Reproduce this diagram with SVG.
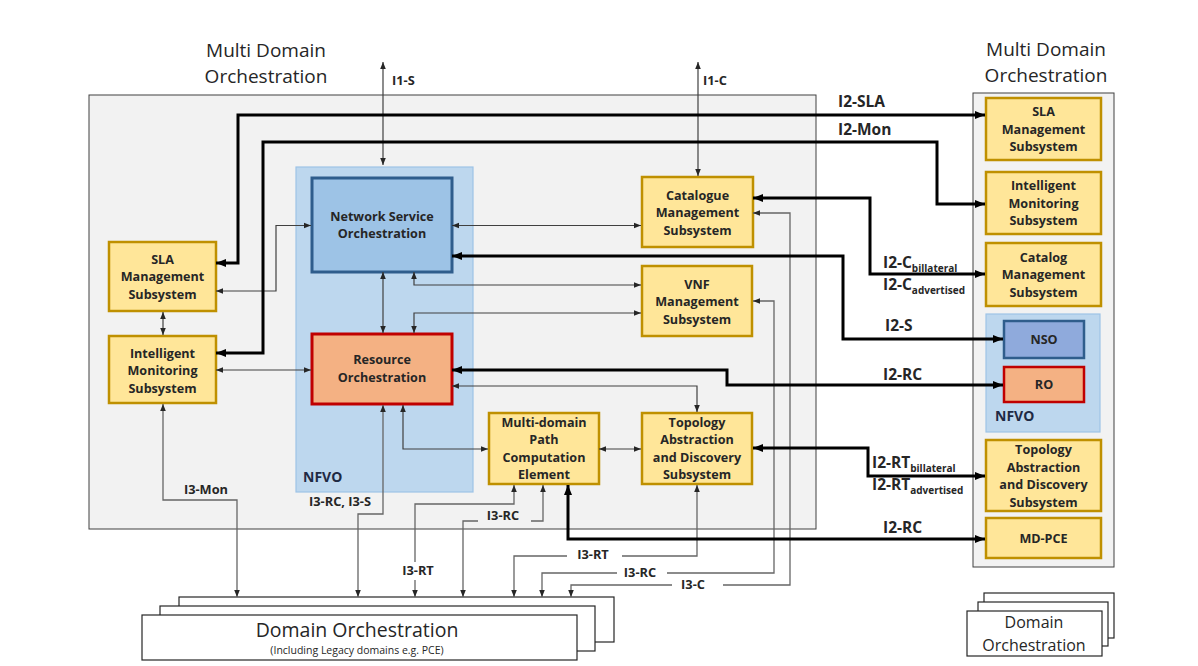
<svg xmlns="http://www.w3.org/2000/svg" width="1198" height="666" viewBox="0 0 1198 666">
<style>
.bg{fill:#f2f2f2;stroke:#404040;stroke-width:1}
.ybox{fill:#ffe699;stroke:#bf9000;stroke-width:2.5}
.nfvo{fill:#bdd7ee;stroke:#9dc3e6;stroke-width:1.2}
.lbl{font-family:'Open Sans',sans-serif;font-weight:700;font-size:12.6px;fill:#262626;text-anchor:middle}
.ttl{font-family:'Open Sans',sans-serif;font-size:19px;fill:#262626;text-anchor:middle}
.il{font-family:'Open Sans',sans-serif;font-weight:700;font-size:12.8px;fill:#262626}
.i2{font-family:'Open Sans',sans-serif;font-weight:700;font-size:15.5px;fill:#262626}
.sub{font-size:10px}
.thin{fill:none;stroke:#404040;stroke-width:1.2;marker-start:url(#a);marker-end:url(#a)}
.gray{fill:none;stroke:#666;stroke-width:1.3}
.thick{fill:none;stroke:#000;stroke-width:3;marker-start:url(#A);marker-end:url(#A)}
.dom{fill:#fff;stroke:#262626;stroke-width:1.2}
</style>
<defs>
<marker id="a" viewBox="0 0 10 10" refX="10" refY="5" markerWidth="7" markerHeight="7" markerUnits="userSpaceOnUse" orient="auto-start-reverse"><path d="M0,1 L10,5 L0,9 z" fill="#262626"/></marker>
<marker id="A" viewBox="0 0 10 10" refX="10" refY="5" markerWidth="10" markerHeight="10" markerUnits="userSpaceOnUse" orient="auto-start-reverse"><path d="M0,1 L10,5 L0,9 z" fill="#000"/></marker>
</defs>
<rect width="1198" height="666" fill="#fff"/>

<g id="left-domain">
<text class="ttl" x="266" y="57">Multi Domain</text>
<text class="ttl" x="266" y="83">Orchestration</text>
<rect class="bg" x="89" y="95" width="727" height="434"/>
</g>
<g id="right-domain">
<text class="ttl" x="1046" y="56">Multi Domain</text>
<text class="ttl" x="1046" y="82">Orchestration</text>
<rect class="bg" x="973" y="93" width="141" height="474"/>
</g>

<g id="nfvo">
<rect class="nfvo" x="296" y="167" width="177" height="325"/>
<text class="i2" x="303" y="482" style="font-size:14px;fill:#1f2a44">NFVO</text>
</g>

<g id="nso">
<rect x="312" y="178" width="140" height="94" fill="#9dc3e6" stroke="#2f5d8c" stroke-width="3"/>
<text class="lbl" x="382" y="221">Network Service</text>
<text class="lbl" x="382" y="238">Orchestration</text>
</g>
<g id="ro">
<rect x="312" y="334" width="140" height="70" fill="#f4b183" stroke="#c00000" stroke-width="3"/>
<text class="lbl" x="382" y="364">Resource</text>
<text class="lbl" x="382" y="381.5">Orchestration</text>
</g>

<g id="sla-left">
<rect class="ybox" x="109" y="242" width="107" height="69"/>
<text class="lbl" x="162.5" y="263.5">SLA</text>
<text class="lbl" x="162.5" y="281">Management</text>
<text class="lbl" x="162.5" y="298.5">Subsystem</text>
</g>
<g id="ims-left">
<rect class="ybox" x="109" y="336" width="107" height="67"/>
<text class="lbl" x="162.5" y="357.5">Intelligent</text>
<text class="lbl" x="162.5" y="375">Monitoring</text>
<text class="lbl" x="162.5" y="392.5">Subsystem</text>
</g>
<g id="catalogue">
<rect class="ybox" x="642" y="177" width="111" height="70"/>
<text class="lbl" x="697.5" y="199.5">Catalogue</text>
<text class="lbl" x="697.5" y="217">Management</text>
<text class="lbl" x="697.5" y="234.5">Subsystem</text>
</g>
<g id="vnf">
<rect class="ybox" x="642" y="266" width="110" height="70"/>
<text class="lbl" x="697" y="288.5">VNF</text>
<text class="lbl" x="697" y="306">Management</text>
<text class="lbl" x="697" y="323.5">Subsystem</text>
</g>
<g id="mdpce">
<rect class="ybox" x="489" y="413" width="110" height="71"/>
<text class="lbl" x="544" y="426.5">Multi-domain</text>
<text class="lbl" x="544" y="444">Path</text>
<text class="lbl" x="544" y="461.5">Computation</text>
<text class="lbl" x="544" y="479">Element</text>
</g>
<g id="topology">
<rect class="ybox" x="642" y="413" width="110" height="71"/>
<text class="lbl" x="697" y="426.5">Topology</text>
<text class="lbl" x="697" y="444">Abstraction</text>
<text class="lbl" x="697" y="461.5">and Discovery</text>
<text class="lbl" x="697" y="479">Subsystem</text>
</g>

<g id="sla-right">
<rect class="ybox" x="986" y="98" width="115" height="62"/>
<text class="lbl" x="1043.5" y="116">SLA</text>
<text class="lbl" x="1043.5" y="133.5">Management</text>
<text class="lbl" x="1043.5" y="151">Subsystem</text>
</g>
<g id="ims-right">
<rect class="ybox" x="986" y="172" width="115" height="62"/>
<text class="lbl" x="1043.5" y="190">Intelligent</text>
<text class="lbl" x="1043.5" y="207.5">Monitoring</text>
<text class="lbl" x="1043.5" y="225">Subsystem</text>
</g>
<g id="catalog-right">
<rect class="ybox" x="986" y="243" width="115" height="63"/>
<text class="lbl" x="1043.5" y="261.5">Catalog</text>
<text class="lbl" x="1043.5" y="279">Management</text>
<text class="lbl" x="1043.5" y="296.5">Subsystem</text>
</g>
<g id="nfvo-right">
<rect class="nfvo" x="986" y="314" width="114" height="118"/>
<text class="i2" x="995" y="421" style="font-size:14px;fill:#1f2a44">NFVO</text>
</g>
<g id="nso-right">
<rect x="1004" y="321" width="80" height="37" fill="#8faadc" stroke="#2f5d8c" stroke-width="2.5"/>
<text class="lbl" x="1044" y="344">NSO</text>
</g>
<g id="ro-right">
<rect x="1004" y="367" width="80" height="35" fill="#f4b183" stroke="#c00000" stroke-width="2.5"/>
<text class="lbl" x="1044" y="389">RO</text>
</g>
<g id="topology-right">
<rect class="ybox" x="986" y="440" width="115" height="71"/>
<text class="lbl" x="1043.5" y="454">Topology</text>
<text class="lbl" x="1043.5" y="471.5">Abstraction</text>
<text class="lbl" x="1043.5" y="489">and Discovery</text>
<text class="lbl" x="1043.5" y="506.5">Subsystem</text>
</g>
<g id="mdpce-right">
<rect class="ybox" x="986" y="518" width="115" height="40"/>
<text class="lbl" x="1043.5" y="543">MD-PCE</text>
</g>

<g id="domain-orchestration">
<rect class="dom" x="179" y="597" width="435" height="45"/>
<rect class="dom" x="160" y="606" width="435" height="45"/>
<rect class="dom" x="142" y="615" width="435" height="45"/>
<text x="357" y="637" style="font-family:'Open Sans',sans-serif;font-size:19.5px;fill:#262626;text-anchor:middle">Domain Orchestration</text>
<text x="357" y="654" style="font-family:'Open Sans',sans-serif;font-size:10.5px;fill:#262626;text-anchor:middle">(Including Legacy domains e.g. PCE)</text>
</g>
<g id="domain-orchestration-right">
<rect class="dom" x="984" y="593" width="130" height="45"/>
<rect class="dom" x="978" y="602" width="130" height="44"/>
<rect class="dom" x="967" y="611" width="135" height="45"/>
<text x="1034" y="628" style="font-family:'Open Sans',sans-serif;font-size:16px;fill:#262626;text-anchor:middle">Domain</text>
<text x="1034" y="651" style="font-family:'Open Sans',sans-serif;font-size:16px;fill:#262626;text-anchor:middle">Orchestration</text>
</g>

<g id="connectors">
<path class="thin" d="M383,62 V165"/>
<path class="thin" d="M698,62 V176"/>
<path class="thin" d="M452,225.5 H641"/>
<path class="thin" d="M216,291 H276 V225.5 H311"/>
<path class="thin" d="M383,272 V333"/>
<path class="thin" d="M414,272 V285 H641"/>
<path class="thin" d="M414,333 V313 H641"/>
<path class="thin" d="M163,312 V335"/>
<path class="thin" d="M216,370 H311"/>
<path class="thin" d="M452,386 H697 V412"/>
<path class="thin" d="M403,405 V449 H488"/>
<path class="thin" d="M599,449 H641"/>
<path class="gray" style="marker-start:url(#a);marker-end:url(#a)" d="M163,404 V500 H237 V597"/>
<path class="gray" style="marker-start:url(#a);marker-end:url(#a)" d="M383,405 V514 H358 V597"/>
<path class="gray" style="marker-start:url(#a)" d="M514,485 V504 H415 V562"/>
<path class="gray" style="marker-end:url(#a)" d="M415,580 V597"/>
<path class="gray" style="marker-start:url(#a)" d="M543,485 V521 H531"/>
<path class="gray" style="marker-end:url(#a)" d="M478,521 H463 V597"/>
<path class="gray" style="marker-start:url(#a)" d="M697,485 V556 H622"/>
<path class="gray" style="marker-end:url(#a)" d="M567,556 H514 V597"/>
<path class="gray" style="marker-start:url(#a)" d="M753,301 H774 V573 H667"/>
<path class="gray" style="marker-end:url(#a)" d="M617,573 H542 V597"/>
<path class="gray" style="marker-start:url(#a)" d="M753,213 H790 V585 H723"/>
<path class="gray" style="marker-end:url(#a)" d="M672,585 H571 V597"/>
<path class="thick" d="M216,263 H238 V115 H985"/>
<path class="thick" d="M216,353 H263 V142 H937 V204 H985"/>
<path class="thick" d="M753,198 H870 V274 H985"/>
<path class="thick" d="M452,256 H843 V339 H1003"/>
<path class="thick" d="M452,370 H727 V385 H1003"/>
<path class="thick" d="M753,448 H868 V476 H985"/>
<path class="thick" d="M568,485 V539 H985"/>
<text class="il" x="392" y="85">I1-S</text>
<text class="il" x="703" y="85">I1-C</text>
<text class="il" x="206" y="494" text-anchor="middle">I3-Mon</text>
<text class="il" x="340" y="506" text-anchor="middle">I3-RC, I3-S</text>
<text class="il" x="418" y="575" text-anchor="middle">I3-RT</text>
<text class="il" x="503" y="520" text-anchor="middle">I3-RC</text>
<text class="il" x="593" y="559" text-anchor="middle">I3-RT</text>
<text class="il" x="640" y="577" text-anchor="middle">I3-RC</text>
<text class="il" x="693" y="589" text-anchor="middle">I3-C</text>
<text class="i2" x="838" y="107">I2-SLA</text>
<text class="i2" x="838" y="135">I2-Mon</text>
<text class="i2" x="883" y="268">I2-C<tspan class="sub" dy="4">billateral</tspan></text>
<text class="i2" x="883" y="290">I2-C<tspan class="sub" dy="4">advertised</tspan></text>
<text class="i2" x="885" y="331">I2-S</text>
<text class="i2" x="883" y="380">I2-RC</text>
<text class="i2" x="872" y="468">I2-RT<tspan class="sub" dy="4">billateral</tspan></text>
<text class="i2" x="872" y="490">I2-RT<tspan class="sub" dy="4">advertised</tspan></text>
<text class="i2" x="883" y="533">I2-RC</text>
</g>
</svg>
